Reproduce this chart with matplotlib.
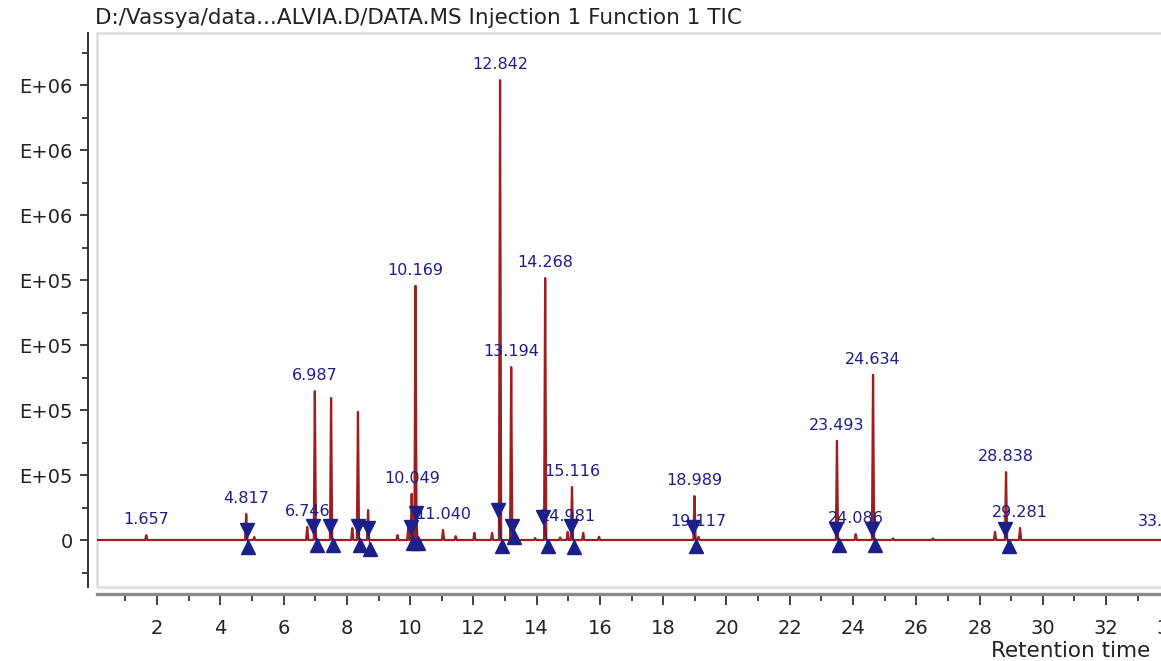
import matplotlib.pyplot as plt
from matplotlib.patches import Rectangle
from matplotlib.ticker import MultipleLocator, FixedLocator

# Peak apexes of the TIC trace: retention time (min) and intensity
peak_rt = [1.657, 4.817, 5.07, 6.746, 6.987, 7.50, 8.17, 8.35, 8.67, 9.60, 9.94,
           10.049, 10.169, 11.040, 11.44, 12.03, 12.59, 12.842, 13.194, 13.95,
           14.268, 14.74, 14.981, 15.116, 15.47, 15.97, 18.989, 19.117, 23.493,
           24.086, 24.634, 25.27, 26.53, 28.49, 28.838, 29.281, 33.870]
peak_int = [1.5e4, 8.0e4, 9e3, 4.0e4, 4.58e5, 4.37e5, 3.7e4, 3.94e5, 9.2e4, 1.5e4, 4.0e4,
            1.42e5, 7.82e5, 3.1e4, 1.2e4, 2.2e4, 2.2e4, 1.415e6, 5.32e5, 6e3,
            8.06e5, 8e3, 2.5e4, 1.63e5, 2.2e4, 1.0e4, 1.35e5, 1.0e4, 3.05e5,
            1.8e4, 5.08e5, 5e3, 5e3, 2.5e4, 2.09e5, 3.7e4, 1.0e4]

# Peaks that carry a retention time label
labelled = ['1.657', '4.817', '6.746', '6.987', '10.049', '10.169', '11.040',
            '12.842', '13.194', '14.268', '14.981', '15.116', '18.989', '19.117',
            '23.493', '24.086', '24.634', '28.838', '29.281', '33.870']

# Integration start / end markers
start_rt = [4.84, 6.94, 7.47, 8.35, 8.67, 10.03, 10.19, 12.78, 13.22, 14.20,
            15.08, 18.95, 23.47, 24.60, 28.80]
start_int = [3.1e4, 4.3e4, 4.3e4, 4.3e4, 3.7e4, 4.0e4, 8.3e4, 9.2e4, 4.3e4, 7.1e4,
             4.3e4, 4.0e4, 3.4e4, 3.4e4, 3.4e4]
end_rt = [4.86, 7.07, 7.57, 8.42, 8.73, 10.10, 10.26, 12.90, 13.27, 14.35,
          15.19, 19.05, 23.57, 24.70, 28.93]
end_int = [-2.2e4, -1.5e4, -1.5e4, -1.5e4, -2.8e4, -9e3, -9e3, -1.8e4, 9e3, -1.8e4,
           -2.2e4, -1.8e4, -1.5e4, -1.5e4, -1.8e4]

y_ticks = [0, 2e5, 4e5, 6e5, 8e5, 1.0e6, 1.2e6, 1.4e6]
y_labels = ['0', 'E+05', 'E+05', 'E+05', 'E+05', 'E+06', 'E+06', 'E+06']

x_min, x_max = 0.10, 34.97
y_min, y_max = -1.446e5, 1.56e6

trace_col = '#9e1e1e'
blue = '#1c1f8a'

fig = plt.figure(figsize=(11.61, 6.61), dpi=100)
ax = fig.add_axes([97 / 1161, 74 / 661, 1103 / 1161, 554 / 661])

# build the trace: baseline with a narrow spike at every apex
half_w = 0.035
xs = [x_min]
ys = [0]
for t, h in zip(peak_rt, peak_int):
    xs += [t - half_w, t, t + half_w]
    ys += [0, h, 0]
xs.append(x_max)
ys.append(0)
ax.plot(xs, ys, color=trace_col, lw=1.6, zorder=2)

# retention time labels
for t, h in zip(peak_rt, peak_int):
    txt = f'{t:.3f}'
    if txt in labelled:
        ax.annotate(txt, (t, h), xytext=(0, 11), textcoords='offset pixels',
                    ha='center', va='baseline', fontsize=11.5, color=blue,
                    zorder=3, annotation_clip=False)

# integration markers joined by a thin line
for t0, y0, t1, y1 in zip(start_rt, start_int, end_rt, end_int):
    ax.plot([t0, t1], [y0, y1], color=blue, lw=0.8, zorder=4)
ax.plot(start_rt, start_int, 'v', color=blue, ms=9.5, zorder=5)
ax.plot(end_rt, end_int, '^', color=blue, ms=9.5, zorder=5)

ax.set_xlim(x_min, x_max)
ax.set_ylim(y_min, y_max)

# light frame around the plot area
ax.add_patch(Rectangle((0, 0), 1, 1, transform=ax.transAxes, fill=False,
                       edgecolor='#dcdcdc', lw=1.8, clip_on=False, zorder=1))
for s in ['top', 'right']:
    ax.spines[s].set_visible(False)
ax.spines['left'].set_position(('outward', 6.5))
ax.spines['left'].set_color('#333333')
ax.spines['left'].set_linewidth(1.4)
ax.spines['bottom'].set_position(('outward', 5))
ax.spines['bottom'].set_color('#8a8a8a')
ax.spines['bottom'].set_linewidth(2.4)

ax.yaxis.set_major_locator(FixedLocator(y_ticks))
ax.set_yticklabels(y_labels)
ax.yaxis.set_minor_locator(MultipleLocator(1e5))
ax.xaxis.set_major_locator(MultipleLocator(2))
ax.xaxis.set_minor_locator(MultipleLocator(1))

ax.tick_params(axis='both', which='major', direction='out', labelsize=14,
               color='#333333', labelcolor='#222222', width=1.3)
ax.tick_params(axis='y', which='major', length=6, pad=5)
ax.tick_params(axis='y', which='minor', length=4, width=1.3, color='#333333')
ax.tick_params(axis='x', which='major', length=8, pad=10)
ax.tick_params(axis='x', which='minor', length=5, width=1.3, color='#333333')

fig.text(95 / 1161, 1 - 18 / 661, 'D:/Vassya/data...ALVIA.D/DATA.MS Injection 1 Function 1 TIC',
         ha='left', va='center', fontsize=15.5, color='#222222')
fig.text(1150 / 1161, 1 - 651 / 661, 'Retention time', ha='right', va='center',
         fontsize=15.5, color='#222222')

fig.savefig('out.png', dpi=100)
